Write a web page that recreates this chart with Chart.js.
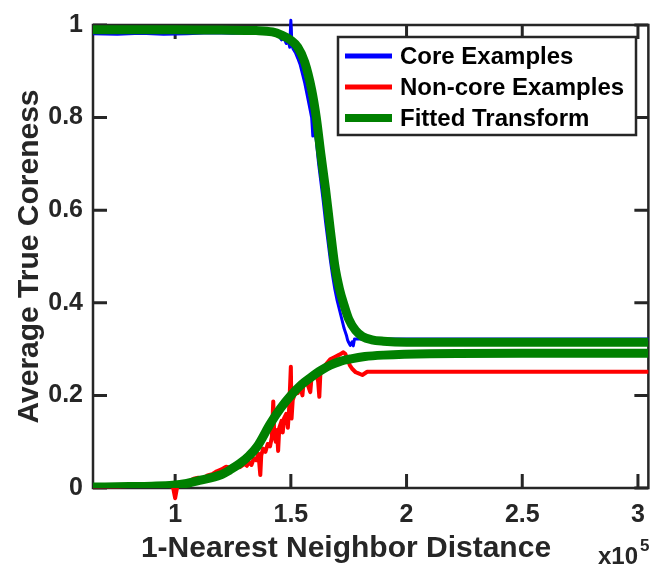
<!DOCTYPE html>
<html>
<head>
<meta charset="utf-8">
<script src="https://cdn.jsdelivr.net/npm/chart.js@4.4.1/dist/chart.umd.min.js"></script>
<style>
  html, body { margin: 0; padding: 0; background: #fff; }
  canvas { display: block; }
</style>
</head>
<body>
<canvas id="chart" width="657" height="568"></canvas>
<script>
// distances are given in units of 1e5 (the axis carries the x10^5 multiplier)
const xTicks = [1, 1.5, 2, 2.5, 3];
const yTicks = [0, 0.2, 0.4, 0.6, 0.8, 1];

const coreDist = [0.645, 0.75, 0.85, 0.95, 1.05, 1.15, 1.25, 1.35, 1.42, 1.45, 1.46, 1.47, 1.48, 1.49, 1.495, 1.5, 1.505, 1.51, 1.52, 1.53, 1.54, 1.55, 1.56, 1.57, 1.58, 1.59, 1.595, 1.6, 1.61, 1.62, 1.63, 1.64, 1.65, 1.66, 1.67, 1.68, 1.69, 1.7, 1.71, 1.72, 1.73, 1.74, 1.745, 1.75, 1.757, 1.765, 1.77, 1.775, 1.8, 2.2, 2.6, 3.045];
const coreValues = [0.981, 0.98, 0.982, 0.98, 0.981, 0.983, 0.982, 0.984, 0.982, 0.975, 0.968, 0.972, 0.96, 0.964, 0.952, 1.01, 0.955, 0.948, 0.94, 0.928, 0.915, 0.895, 0.875, 0.85, 0.825, 0.8, 0.76, 0.785, 0.75, 0.7, 0.66, 0.62, 0.575, 0.535, 0.495, 0.46, 0.43, 0.405, 0.385, 0.365, 0.345, 0.33, 0.32, 0.314, 0.308, 0.316, 0.307, 0.322, 0.322, 0.322, 0.322, 0.322];

const nonCoreDist = [0.645, 0.75, 0.85, 0.95, 0.99, 1.0, 1.01, 1.05, 1.08, 1.1, 1.12, 1.14, 1.16, 1.18, 1.2, 1.22, 1.24, 1.26, 1.28, 1.3, 1.31, 1.32, 1.33, 1.34, 1.35, 1.36, 1.368, 1.372, 1.38, 1.39, 1.4, 1.41, 1.418, 1.424, 1.428, 1.435, 1.44, 1.445, 1.45, 1.46, 1.465, 1.47, 1.48, 1.487, 1.493, 1.5, 1.503, 1.508, 1.515, 1.52, 1.53, 1.54, 1.55, 1.555, 1.565, 1.575, 1.584, 1.59, 1.6, 1.61, 1.618, 1.623, 1.628, 1.64, 1.65, 1.66, 1.67, 1.69, 1.71, 1.727, 1.735, 1.745, 1.755, 1.766, 1.78, 1.79, 1.809, 1.83, 2.2, 2.6, 3.045];
const nonCoreValues = [0.004, 0.004, 0.005, 0.005, 0.004, -0.022, 0.006, 0.012, 0.02, 0.022, 0.02, 0.027, 0.03, 0.036, 0.04, 0.046, 0.044, 0.05, 0.045, 0.052, 0.048, 0.056, 0.05, 0.064, 0.06, 0.074, 0.028, 0.07, 0.085, 0.078, 0.095, 0.09, 0.11, 0.187, 0.115, 0.1, 0.125, 0.08, 0.13, 0.145, 0.12, 0.15, 0.16, 0.13, 0.175, 0.262, 0.15, 0.19, 0.2, 0.212, 0.205, 0.222, 0.2, 0.228, 0.232, 0.22, 0.207, 0.242, 0.238, 0.248, 0.23, 0.197, 0.252, 0.26, 0.266, 0.272, 0.278, 0.283, 0.288, 0.293, 0.29, 0.278, 0.265, 0.257, 0.25, 0.248, 0.244, 0.251, 0.251, 0.251, 0.251];

// fitted transform, upper (core) branch and lower (non-core) branch
const fitHighDist = [0.645, 1.0, 1.2, 1.35, 1.42, 1.46, 1.5, 1.53, 1.56, 1.59, 1.61, 1.63, 1.65, 1.67, 1.69, 1.71, 1.73, 1.75, 1.78, 1.81, 1.85, 1.9, 2.0, 2.5, 3.045];
const fitHighValues = [0.99, 0.99, 0.989, 0.988, 0.985, 0.978, 0.967, 0.952, 0.92, 0.86, 0.8, 0.72, 0.645, 0.56, 0.48, 0.43, 0.395, 0.365, 0.34, 0.327, 0.32, 0.317, 0.315, 0.315, 0.315];
const fitLowDist = [0.645, 0.8, 0.9, 0.99, 1.05, 1.11, 1.195, 1.24, 1.28, 1.32, 1.355, 1.41, 1.455, 1.5, 1.545, 1.584, 1.63, 1.67, 1.71, 1.76, 1.82, 1.9, 2.1, 2.5, 3.045];
const fitLowValues = [0.002, 0.003, 0.004, 0.006, 0.01, 0.017, 0.028, 0.04, 0.053, 0.07, 0.09, 0.138, 0.172, 0.2, 0.223, 0.238, 0.254, 0.265, 0.273, 0.279, 0.284, 0.287, 0.29, 0.291, 0.291];

const legendItems = [
    { label: "Core Examples", color: "#0000ff", width: 5 },
    { label: "Non-core Examples", color: "#ff0000", width: 5 },
    { label: "Fitted Transform", color: "#008000", width: 8 }
];

const axisColor = "#262626";
const fontFamily = "'Liberation Sans', Arial, Helvetica, sans-serif";

function toPoints(xs, ys) {
    return xs.map((x, i) => ({ x: x, y: ys[i] }));
}

// box, inward ticks, legend and x label drawn like the original figure
const figurePlugin = {
    id: "figure",
    beforeDatasetsDraw(chart) {
        const { ctx, chartArea: a, scales } = chart;
        const tickLen = 14;
        ctx.save();
        ctx.strokeStyle = axisColor;
        ctx.lineWidth = 2.5;
        ctx.strokeRect(a.left, a.top, a.right - a.left, a.bottom - a.top);
        ctx.lineWidth = 3;
        ctx.beginPath();
        xTicks.forEach(v => {
            const px = scales.x.getPixelForValue(v);
            ctx.moveTo(px, a.bottom); ctx.lineTo(px, a.bottom - tickLen);
            ctx.moveTo(px, a.top); ctx.lineTo(px, a.top + tickLen);
        });
        yTicks.forEach(v => {
            const py = scales.y.getPixelForValue(v);
            ctx.moveTo(a.left, py); ctx.lineTo(a.left + tickLen, py);
            ctx.moveTo(a.right, py); ctx.lineTo(a.right - tickLen, py);
        });
        ctx.stroke();
        ctx.restore();
    },
    afterDraw(chart) {
        const { ctx } = chart;
        ctx.save();

        // legend
        ctx.fillStyle = "#fff";
        ctx.fillRect(338, 37, 298, 98);
        ctx.strokeStyle = axisColor;
        ctx.lineWidth = 2.5;
        ctx.strokeRect(338, 37, 298, 98);
        ctx.font = "bold 24px " + fontFamily;
        ctx.textBaseline = "middle";
        ctx.textAlign = "left";
        legendItems.forEach((item, i) => {
            const y = 56 + i * 31;
            ctx.strokeStyle = item.color;
            ctx.lineWidth = item.width;
            ctx.beginPath();
            ctx.moveTo(345, y);
            ctx.lineTo(392, y);
            ctx.stroke();
            ctx.fillStyle = "#000";
            ctx.fillText(item.label, 400, y + 1);
        });

        // x axis title and multiplier
        ctx.fillStyle = axisColor;
        ctx.textAlign = "center";
        ctx.textBaseline = "alphabetic";
        ctx.font = "bold 30px " + fontFamily;
        ctx.fillText("1-Nearest Neighbor Distance", 346, 557);
        ctx.textAlign = "left";
        ctx.font = "bold 24px " + fontFamily;
        ctx.fillText("x10", 598, 564);
        ctx.font = "bold 17px " + fontFamily;
        ctx.fillText("5", 640, 551);
        ctx.restore();
    }
};

const ctx = document.getElementById("chart").getContext("2d");

new Chart(ctx, {
    type: "line",
    data: {
        datasets: [
            {
                label: "Fitted Transform",
                data: toPoints(fitHighDist, fitHighValues),
                borderColor: "#008000",
                borderWidth: 9,
                cubicInterpolationMode: "monotone",
                order: 0
            },
            {
                label: "Fitted Transform (low)",
                data: toPoints(fitLowDist, fitLowValues),
                borderColor: "#008000",
                borderWidth: 9,
                cubicInterpolationMode: "monotone",
                order: 1
            },
            {
                label: "Core Examples",
                data: toPoints(coreDist, coreValues),
                borderColor: "#0000ff",
                borderWidth: 3,
                clip: false,
                order: 2
            },
            {
                label: "Non-core Examples",
                data: toPoints(nonCoreDist, nonCoreValues),
                borderColor: "#ff0000",
                borderWidth: 4,
                clip: false,
                order: 3
            }
        ]
    },
    options: {
        responsive: false,
        animation: false,
        devicePixelRatio: 1,
        layout: { padding: { top: 16, right: 5, left: 0, bottom: 0 } },
        elements: { point: { radius: 0 }, line: { borderCapStyle: "butt", borderJoinStyle: "round" } },
        plugins: { legend: { display: false }, tooltip: { enabled: false } },
        scales: {
            x: {
                type: "linear",
                min: 0.645,
                max: 3.045,
                grid: { display: false, drawTicks: false },
                border: { display: false },
                afterBuildTicks: scale => { scale.ticks = xTicks.map(v => ({ value: v })); },
                afterFit: scale => { scale.height = 80; },
                ticks: {
                    color: axisColor,
                    padding: 12,
                    maxRotation: 0,
                    font: { family: fontFamily, size: 25, weight: "bold" },
                    callback: v => String(v)
                }
            },
            y: {
                type: "linear",
                min: 0,
                max: 1,
                grid: { display: false, drawTicks: false },
                border: { display: false },
                afterBuildTicks: scale => { scale.ticks = yTicks.map(v => ({ value: v })); },
                afterFit: scale => { scale.width = 93; },
                ticks: {
                    color: axisColor,
                    padding: 10,
                    font: { family: fontFamily, size: 25, weight: "bold" },
                    callback: v => String(v)
                },
                title: {
                    display: true,
                    text: "Average True Coreness",
                    color: axisColor,
                    padding: { top: 12, bottom: 0 },
                    font: { family: fontFamily, size: 30, weight: "bold" }
                }
            }
        }
    },
    plugins: [figurePlugin]
});
</script>
</body>
</html>
